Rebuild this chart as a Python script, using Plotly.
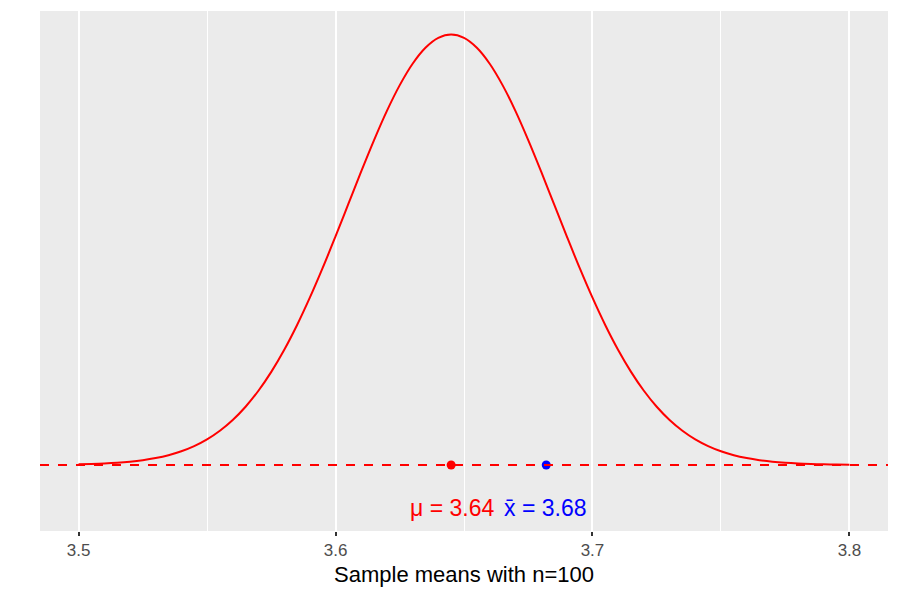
import plotly.graph_objects as go

# Density curve values (every 0.005)
x_vals = [3.500, 3.505, 3.510, 3.515, 3.520, 3.525, 3.530, 3.535, 3.540, 3.545,
          3.550, 3.555, 3.560, 3.565, 3.570, 3.575, 3.580, 3.585, 3.590, 3.595,
          3.600, 3.605, 3.610, 3.615, 3.620, 3.625, 3.630, 3.635, 3.640, 3.645,
          3.650, 3.655, 3.660, 3.665, 3.670, 3.675, 3.680, 3.685, 3.690, 3.695,
          3.700, 3.705, 3.710, 3.715, 3.720, 3.725, 3.730, 3.735, 3.740, 3.745,
          3.750, 3.755, 3.760, 3.765, 3.770, 3.775, 3.780, 3.785, 3.790, 3.795,
          3.800]
density = [0.014, 0.022, 0.034, 0.051, 0.076, 0.111, 0.160, 0.227, 0.318, 0.438,
           0.594, 0.794, 1.043, 1.350, 1.720, 2.158, 2.664, 3.238, 3.876, 4.566,
           5.297, 6.049, 6.801, 7.528, 8.205, 8.802, 9.297, 9.667, 9.896, 9.974,
           9.896, 9.667, 9.297, 8.802, 8.205, 7.528, 6.801, 6.049, 5.297, 4.566,
           3.876, 3.238, 2.664, 2.158, 1.720, 1.350, 1.043, 0.794, 0.594, 0.438,
           0.318, 0.227, 0.160, 0.111, 0.076, 0.051, 0.034, 0.022, 0.014, 0.009,
           0.005]

mu = 3.645
xbar = 3.682
label_y = -1.0
mu_label = "μ = 3.64"
xbar_label = "x̄ = 3.68"
x_ticks = [3.5, 3.6, 3.7, 3.8]
x_tick_text = ["3.5", "3.6", "3.7", "3.8"]
x_title = "Sample means with n=100"

FONT = "Liberation Sans, Arial, sans-serif"

fig = go.Figure()
fig.add_trace(go.Scatter(x=x_vals, y=density, mode="lines", line_shape="spline",
                         line=dict(color="#FF0000", width=2), hoverinfo="skip",
                         showlegend=False))
fig.add_trace(go.Scatter(x=[mu], y=[0], mode="markers",
                         marker=dict(color="#FF0000", size=9), showlegend=False))
fig.add_trace(go.Scatter(x=[xbar], y=[0], mode="markers",
                         marker=dict(color="#0000FF", size=9), showlegend=False))

fig.add_shape(type="line", xref="x domain", yref="y", x0=0, x1=1, y0=0, y1=0,
              line=dict(color="#FF0000", width=2, dash="9px,9px"), layer="above")

mid = (mu + xbar) / 2
fig.add_annotation(x=mid, y=label_y, text=mu_label, showarrow=False,
                   xanchor="right", yanchor="middle", xshift=-3,
                   font=dict(color="#FF0000", size=23, family=FONT))
fig.add_annotation(x=mid, y=label_y, text=xbar_label, showarrow=False,
                   xanchor="left", yanchor="middle", xshift=3,
                   font=dict(color="#0000FF", size=23, family=FONT))

fig.update_layout(
    width=900, height=600,
    margin=dict(l=40, r=12, t=11, b=69),
    paper_bgcolor="white", plot_bgcolor="#EBEBEB",
    font=dict(family=FONT),
    xaxis=dict(range=[3.485, 3.815], tickvals=x_ticks, ticktext=x_tick_text,
               showgrid=True, gridcolor="white", gridwidth=2,
               minor=dict(dtick=0.05, tick0=3.45, showgrid=True, gridcolor="white", gridwidth=1),
               ticks="outside", ticklen=4, tickwidth=1.5, tickcolor="#333333",
               tickfont=dict(size=17, color="#4D4D4D"),
               zeroline=False, showline=False,
               title=dict(text=x_title, font=dict(size=22, color="black"), standoff=7)),
    yaxis=dict(range=[-1.53, 10.52], visible=False, showgrid=False, zeroline=False),
)

fig.write_html("out.html")
